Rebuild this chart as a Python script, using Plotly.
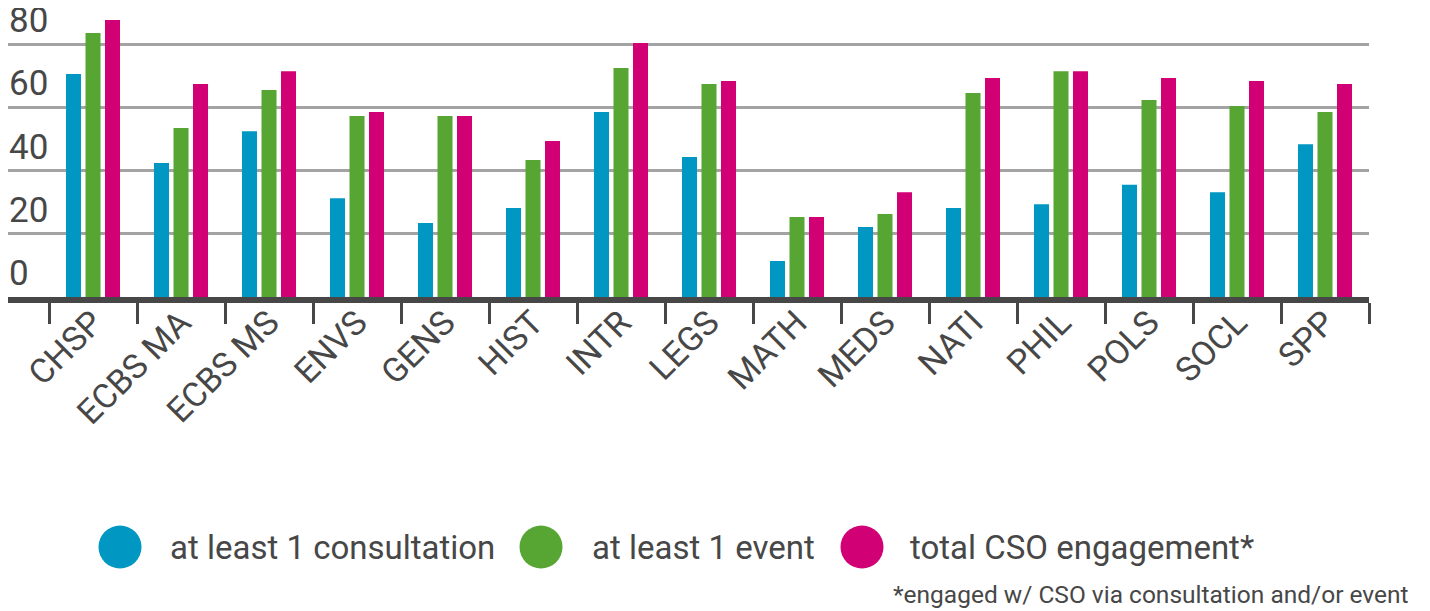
import plotly.graph_objects as go

categories = ["CHSP", "ECBS MA", "ECBS MS", "ENVS", "GENS", "HIST", "INTR", "LEGS",
              "MATH", "MEDS", "NATI", "PHIL", "POLS", "SOCL", "SPP"]
consultation = [70.6, 42.4, 52.5, 31.3, 23.4, 28.2, 58.6, 44.3, 11.4, 22.2, 28.2, 29.4, 35.5, 33.2, 48.4]
event = [83.6, 53.5, 65.5, 57.3, 57.3, 43.4, 72.5, 67.4, 25.3, 26.3, 64.6, 71.5, 62.4, 60.5, 58.6]
total = [87.7, 67.4, 71.5, 58.6, 57.3, 49.4, 80.4, 68.4, 25.3, 33.2, 69.3, 71.5, 69.3, 68.4, 67.4]
series_names = ["at least 1 consultation", "at least 1 event", "total CSO engagement*"]
y_ticks = [0, 20, 40, 60, 80]
footnote = "*engaged w/ CSO via consultation and/or event"

colors = ["#0097c2", "#57a532", "#d10074"]
TXT = "#474747"
FONT = "Roboto"

OFF = 8  # page body margin
W, H = 1430 - OFF, 611 - OFF
L, R, T, B = 0, 61, 0, 314
PW, PH = W - L - R, H - T - B

def px2paper(x, y):
    # x, y in page pixels of the reference picture
    x -= OFF
    y -= OFF
    return (x - L) / PW, (H - B - y) / PH

fig = go.Figure()
for name, vals, c in zip(series_names, [consultation, event, total], colors):
    fig.add_trace(go.Bar(x=categories, y=vals, name=name, marker=dict(color=c, line=dict(width=0)),
                         showlegend=False))

fig.update_layout(
    width=W, height=H, template="none",
    margin=dict(l=L, r=R, t=T, b=B),
    paper_bgcolor="white", plot_bgcolor="white",
    barmode="group", bargap=0.335, bargroupgap=0.23,
    font=dict(family=FONT, color=TXT),
)
fig.update_xaxes(
    type="category", range=[-0.966, 14.5],
    showline=True, linecolor=TXT, linewidth=6,
    ticks="outside", ticklen=21, tickwidth=3, tickcolor=TXT, tickson="boundaries",
    tickangle=-45, tickfont=dict(size=34, color=TXT, family=FONT), ticklabelstandoff=-14,
    showgrid=False, zeroline=False, automargin=False,
)
fig.update_yaxes(
    range=[0, 91.5], tickvals=y_ticks, showticklabels=False,
    showgrid=True, gridcolor="#a3a3a3", gridwidth=3,
    zeroline=False, showline=False, ticks="", automargin=False,
)

# y tick labels sit above their gridlines, at the left edge of the plot
for v in y_ticks:
    fig.add_annotation(xref="paper", yref="y", x=0, y=v, text=str(v), showarrow=False,
                       xanchor="left", yanchor="middle", yshift=24, borderpad=0,
                       height=26, valign="middle",
                       font=dict(size=35, color=TXT, family=FONT))

# manual legend with large circular markers
legend_items = [(120, 168), (541, 590), (862, 908)]
cy = 547
r = 21.5
for (cx, tx), name, c in zip(legend_items, series_names, colors):
    x0, y0 = px2paper(cx - r, cy + r)
    x1, y1 = px2paper(cx + r, cy - r)
    fig.add_shape(type="circle", xref="paper", yref="paper", x0=x0, y0=y0, x1=x1, y1=y1,
                  fillcolor=c, line=dict(width=0))
    ax, ay = px2paper(tx, cy)
    fig.add_annotation(xref="paper", yref="paper", x=ax, y=ay, text=name, showarrow=False,
                       xanchor="left", yanchor="middle", font=dict(size=33, color=TXT, family=FONT))

fx, fy = px2paper(1411, 594)
fig.add_annotation(xref="paper", yref="paper", x=fx, y=fy, text=footnote, showarrow=False,
                   xanchor="right", yanchor="middle", font=dict(size=24.5, color=TXT, family=FONT))

fig.write_html("out.html")
